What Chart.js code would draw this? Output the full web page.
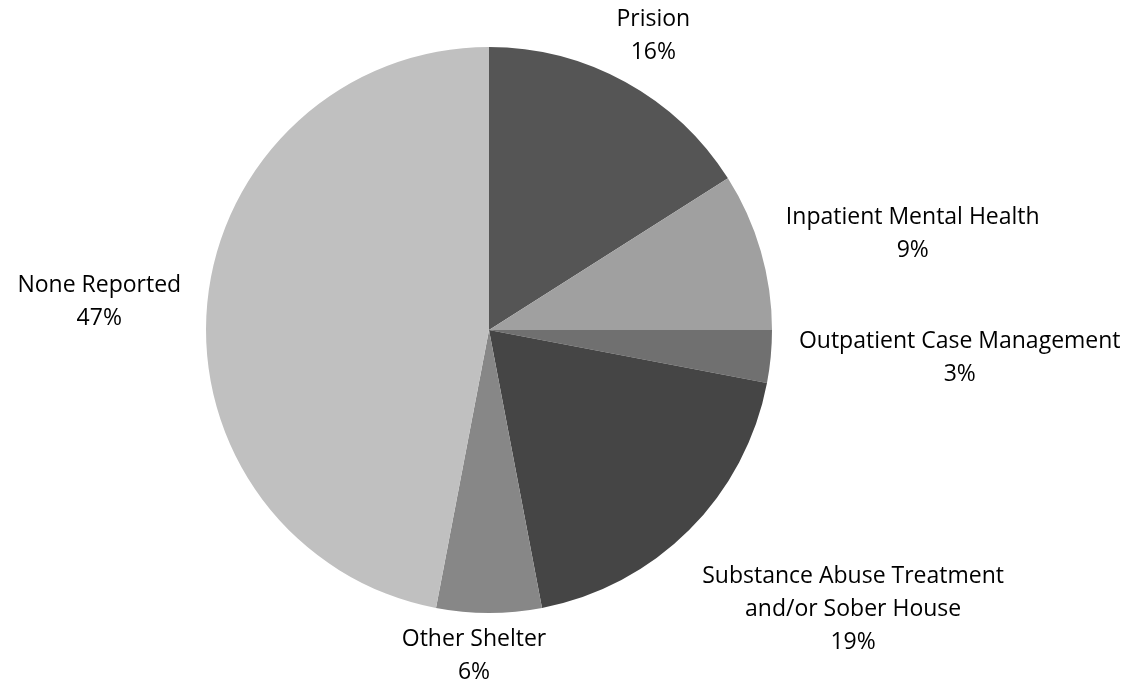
<!DOCTYPE html>
<html>
<head>
<meta charset="utf-8">
<script src="https://cdn.jsdelivr.net/npm/chart.js@4.4.0/dist/chart.umd.min.js"></script>
<style>
    html, body { margin: 0; padding: 0; background: #ffffff; }
    #chartWrap { position: relative; width: 1127px; height: 681px; }
</style>
</head>
<body>
<div id="chartWrap"><canvas id="dischargeChart"></canvas></div>
<script>
// Discharge destinations, share of total (%)
const categories = [
    'Prision',
    'Inpatient Mental Health',
    'Outpatient Case Management',
    'Substance Abuse Treatment\nand/or Sober House',
    'Other Shelter',
    'None Reported'
];
const shares = [16, 9, 3, 19, 6, 47];
const sliceColors = ['#555555', '#a0a0a0', '#707070', '#454545', '#878787', '#c0c0c0'];

// Where each label sits relative to the outer midpoint of its slice
const labelOffsets = [[28, -46], [152, -17], [189, 1], [164, 79], [-15, 43], [-108, -1]];

const LABEL_FONT = '23px "Open Sans", "Liberation Sans", sans-serif';
const LINE_HEIGHT = 33;

// Draws "name / percent" labels outside the pie, Excel style
const outsideLabels = {
    id: 'outsideLabels',
    afterDatasetsDraw(chart) {
        const { ctx } = chart;
        const meta = chart.getDatasetMeta(0);
        ctx.save();
        ctx.font = LABEL_FONT;
        ctx.fillStyle = '#000000';
        ctx.textAlign = 'center';
        ctx.textBaseline = 'middle';
        meta.data.forEach((arc, i) => {
            const mid = (arc.startAngle + arc.endAngle) / 2;
            const ox = arc.x + Math.cos(mid) * arc.outerRadius;
            const oy = arc.y + Math.sin(mid) * arc.outerRadius;
            const lines = categories[i].split('\n').concat([shares[i] + '%']);
            const cx = ox + labelOffsets[i][0];
            const cy = oy + labelOffsets[i][1];
            const top = cy - (lines.length - 1) * LINE_HEIGHT / 2;
            lines.forEach((line, j) => ctx.fillText(line, cx, top + j * LINE_HEIGHT));
        });
        ctx.restore();
    }
};

new Chart(document.getElementById('dischargeChart'), {
    type: 'pie',
    data: {
        labels: categories,
        datasets: [{
            data: shares,
            backgroundColor: sliceColors,
            borderWidth: 0
        }]
    },
    options: {
        responsive: true,
        maintainAspectRatio: false,
        animation: false,
        layout: {
            padding: { left: 206, right: 355, top: 47, bottom: 68 }
        },
        plugins: {
            legend: { display: false },
            tooltip: { enabled: false }
        }
    },
    plugins: [outsideLabels]
});
</script>
</body>
</html>
